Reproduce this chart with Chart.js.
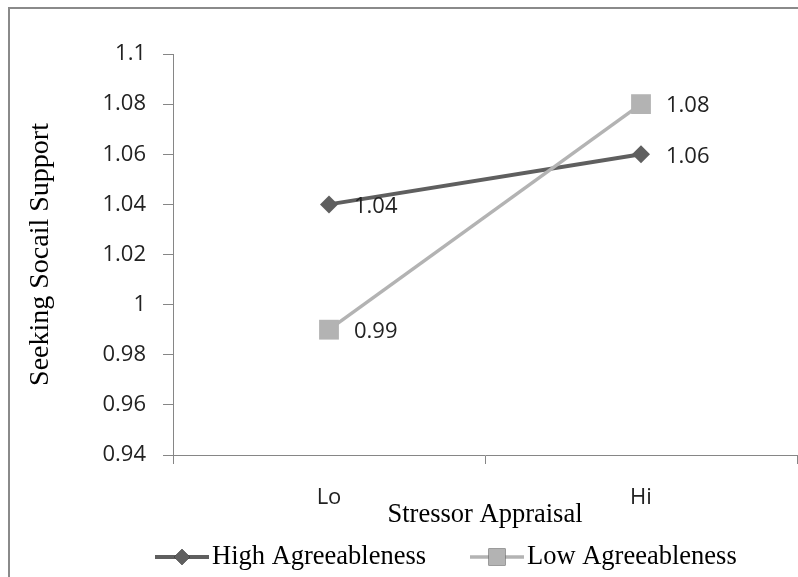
<!DOCTYPE html>
<html>
<head>
<meta charset="utf-8">
<script src="https://cdn.jsdelivr.net/npm/chart.js@4.4.0/dist/chart.umd.min.js"></script>
<style>
html, body { margin: 0; padding: 0; background: #fff; }
</style>
</head>
<body>
<canvas id="graficoStressor" width="798" height="577"></canvas>
<script>
// dados
var categorias = ['Lo', 'Hi'];
var nomesSeries = ['High Agreeableness', 'Low Agreeableness'];
var altaAmabilidade = [1.04, 1.06];
var baixaAmabilidade = [0.99, 1.08];
var eixoYMin = 0.94;
var eixoYMax = 1.1;
var eixoYPasso = 0.02;

var corAlta = '#5f5f5f';
var corBaixa = '#b3b3b3';
var corEixo = '#868686';
var fonteNumeros = 'Open Sans';
var fonteTitulos = 'Liberation Serif';

function desenharMarcador(ctx, estilo, raio, x, y, cor)
{
    Chart.helpers.drawPoint(ctx, { pointStyle: estilo, radius: raio, borderWidth: 0, rotation: 0 }, x, y);
    ctx.fillStyle = cor;
    ctx.fill();
}

// moldura cinza em volta do grafico
var pluginMoldura = {
    id: 'moldura',
    beforeDraw: function(chart) {
        var ctx = chart.ctx;
        ctx.save();
        ctx.strokeStyle = '#8a8a8a';
        ctx.lineWidth = 2;
        ctx.strokeRect(9, 8, 900, 700);
        ctx.restore();
    }
};

// rotulos de valor ao lado de cada ponto
var pluginRotulos = {
    id: 'rotulos',
    afterDatasetsDraw: function(chart) {
        var ctx = chart.ctx;
        ctx.save();
        ctx.font = '22px "' + fonteNumeros + '"';
        ctx.fillStyle = '#222';
        ctx.textAlign = 'left';
        ctx.textBaseline = 'middle';
        chart.data.datasets.forEach(function(ds, i) {
            var meta = chart.getDatasetMeta(i);
            meta.data.forEach(function(ponto, j) {
                ctx.fillText(String(ds.data[j]), ponto.x + 25, ponto.y + 2);
            });
        });
        ctx.restore();
    }
};

// legenda no estilo do Excel: linha com marcador
var pluginLegenda = {
    id: 'legendaLinha',
    afterDraw: function(chart) {
        var ctx = chart.ctx;
        var y = 557;
        var inicios = [155, 470];
        ctx.save();
        chart.data.datasets.forEach(function(ds, i) {
            var x0 = inicios[i];
            ctx.strokeStyle = ds.borderColor;
            ctx.lineWidth = ds.borderWidth;
            ctx.beginPath();
            ctx.moveTo(x0, y);
            ctx.lineTo(x0 + 54, y);
            ctx.stroke();
            desenharMarcador(ctx, ds.pointStyle, ds.pointStyle == 'rect' ? 12 : 8, x0 + 27, y, ds.borderColor);
            ctx.font = '26.5px "' + fonteTitulos + '"';
            ctx.fillStyle = '#000';
            ctx.textAlign = 'left';
            ctx.textBaseline = 'middle';
            ctx.fillText(ds.label, x0 + 57, y);
        });
        ctx.restore();
    }
};

var data = {
    labels: categorias,
    datasets: [
        {
            label: nomesSeries[0],
            data: altaAmabilidade,
            borderColor: corAlta,
            backgroundColor: corAlta,
            borderWidth: 4,
            pointStyle: 'rectRot',
            pointRadius: 9,
            pointBorderWidth: 0,
            pointBackgroundColor: corAlta,
            order: 2
        },
        {
            label: nomesSeries[1],
            data: baixaAmabilidade,
            borderColor: corBaixa,
            backgroundColor: corBaixa,
            borderWidth: 3.5,
            pointStyle: 'rect',
            pointRadius: 14,
            pointBorderWidth: 0,
            pointBackgroundColor: corBaixa,
            order: 1
        }
    ]
};

var ctxGrafico = document.getElementById('graficoStressor');
var grafico = new Chart(ctxGrafico, {
    type: 'line',
    data: data,
    plugins: [pluginMoldura, pluginRotulos, pluginLegenda],
    options: {
        responsive: false,
        animation: false,
        layout: { autoPadding: false, padding: { left: 24, top: 54, right: 1, bottom: 45 } },
        plugins: {
            legend: { display: false },
            tooltip: { enabled: false }
        },
        scales: {
            x: {
                offset: true,
                grid: { offset: true, drawOnChartArea: false, tickLength: 9, color: corEixo },
                border: { color: corEixo },
                ticks: { padding: 21, color: '#222', font: { family: fonteNumeros, size: 22 } },
                title: {
                    display: true,
                    text: 'Stressor Appraisal',
                    color: '#000',
                    font: { family: fonteTitulos, size: 26.5 },
                    padding: { top: 0, bottom: 1 }
                },
                afterFit: function(escala) {
                    escala.height = 77;
                    escala.paddingLeft = 0;
                    escala.paddingRight = 0;
                }
            },
            y: {
                min: eixoYMin,
                max: eixoYMax,
                grid: { drawOnChartArea: false, tickLength: 10, color: corEixo },
                border: { color: corEixo },
                ticks: {
                    stepSize: eixoYPasso,
                    padding: 17,
                    color: '#222',
                    font: { family: fonteNumeros, size: 22 },
                    callback: function(valor) { return String(+valor.toFixed(2)); }
                },
                title: {
                    display: true,
                    text: 'Seeking Socail Support',
                    color: '#000',
                    font: { family: fonteTitulos, size: 28 },
                    padding: { top: 0, bottom: 0 }
                },
                afterFit: function(escala) { escala.width = 149; }
            }
        }
    }
});
</script>
</body>
</html>
